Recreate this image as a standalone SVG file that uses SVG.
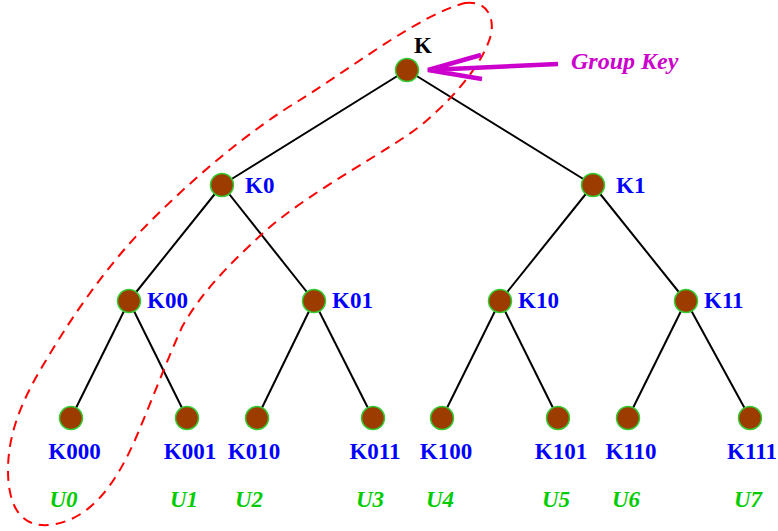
<svg xmlns="http://www.w3.org/2000/svg" width="778" height="531" viewBox="0 0 778 531">
  <style>
    .edge { stroke: #000; stroke-width: 2; fill: none; }
    .node { fill: #9c3c00; stroke: #33cc33; stroke-width: 1.5; }
    .klab { font-family: "Liberation Serif", serif; font-weight: bold; font-size: 23px; fill: #0000ff; }
    .root { fill: #000; }
    .ulab { font-family: "Liberation Serif", serif; font-weight: bold; font-style: italic; font-size: 23px; fill: #00cc00; text-anchor: middle; }
    .leaf { text-anchor: middle; }
    .loop { fill: none; stroke: #ff0000; stroke-width: 2; stroke-dasharray: 10 7; }
    .ptr { stroke: #cc00cc; stroke-width: 4.5; fill: none; stroke-linecap: butt; }
    .plab { font-family: "Liberation Serif", serif; font-weight: bold; font-style: italic; font-size: 24px; fill: #cc00cc; }
  </style>

  <!-- tree edges -->
  <g id="connectors">
    <line class="edge" x1="407" y1="70" x2="222" y2="185"/>
    <line class="edge" x1="407" y1="70" x2="593" y2="185"/>
    <line class="edge" x1="222" y1="185" x2="129" y2="301"/>
    <line class="edge" x1="222" y1="185" x2="314" y2="301"/>
    <line class="edge" x1="593" y1="185" x2="500" y2="301"/>
    <line class="edge" x1="593" y1="185" x2="686" y2="301"/>
    <line class="edge" x1="129" y1="301" x2="71" y2="418"/>
    <line class="edge" x1="129" y1="301" x2="187" y2="418"/>
    <line class="edge" x1="314" y1="301" x2="257" y2="418"/>
    <line class="edge" x1="314" y1="301" x2="373" y2="418"/>
    <line class="edge" x1="500" y1="301" x2="442" y2="418"/>
    <line class="edge" x1="500" y1="301" x2="558" y2="418"/>
    <line class="edge" x1="686" y1="301" x2="628" y2="418"/>
    <line class="edge" x1="686" y1="301" x2="750" y2="418"/>
  </g>

  <!-- key path from root to leaf U0 -->
  <path id="keypath" class="loop" d="M 465,3 C 487,0 496,18 490,38 C 483,60 462,90 425,122 C 395,148 310,190 262,234 C 225,268 200,295 182,327 C 165,365 150,405 135,440 C 115,485 90,520 50,525 C 20,528 8,505 8,470 C 8,430 25,395 45,362 C 70,320 100,275 140,232 C 190,180 250,130 300,100 C 360,62 420,15 465,3 Z"/>

  <g id="n-K"><circle class="node" cx="407" cy="70" r="11.5"/><text class="klab root" x="414" y="53">K</text></g>
  <g id="n-K0"><circle class="node" cx="222" cy="185" r="11.5"/><text class="klab" x="245" y="193">K0</text></g>
  <g id="n-K1"><circle class="node" cx="593" cy="185" r="11.5"/><text class="klab" x="616" y="193">K1</text></g>
  <g id="n-K00"><circle class="node" cx="129" cy="301" r="11.5"/><text class="klab" x="147" y="308">K00</text></g>
  <g id="n-K01"><circle class="node" cx="314" cy="301" r="11.5"/><text class="klab" x="332" y="308">K01</text></g>
  <g id="n-K10"><circle class="node" cx="500" cy="301" r="11.5"/><text class="klab" x="518" y="308">K10</text></g>
  <g id="n-K11"><circle class="node" cx="686" cy="301" r="11.5"/><text class="klab" x="704" y="308">K11</text></g>

  <g id="n-K000"><circle class="node" cx="71" cy="418" r="11.5"/><text class="klab leaf" x="74.5" y="459">K000</text><text class="ulab" x="63.5" y="507">U0</text></g>
  <g id="n-K001"><circle class="node" cx="187" cy="418" r="11.5"/><text class="klab leaf" x="190" y="459">K001</text><text class="ulab" x="184" y="507">U1</text></g>
  <g id="n-K010"><circle class="node" cx="257" cy="418" r="11.5"/><text class="klab leaf" x="254" y="459">K010</text><text class="ulab" x="249" y="507">U2</text></g>
  <g id="n-K011"><circle class="node" cx="373" cy="418" r="11.5"/><text class="klab leaf" x="375" y="459">K011</text><text class="ulab" x="370" y="507">U3</text></g>
  <g id="n-K100"><circle class="node" cx="442" cy="418" r="11.5"/><text class="klab leaf" x="446" y="459">K100</text><text class="ulab" x="440" y="507">U4</text></g>
  <g id="n-K101"><circle class="node" cx="558" cy="418" r="11.5"/><text class="klab leaf" x="561" y="459">K101</text><text class="ulab" x="556" y="507">U5</text></g>
  <g id="n-K110"><circle class="node" cx="628" cy="418" r="11.5"/><text class="klab leaf" x="631" y="459">K110</text><text class="ulab" x="626" y="507">U6</text></g>
  <g id="n-K111"><circle class="node" cx="750" cy="418" r="11.5"/><text class="klab leaf" x="752" y="459">K111</text><text class="ulab" x="748" y="507">U7</text></g>

  <!-- group key pointer -->
  <g id="group-key">
    <path class="ptr" d="M 558,64 L 428,70 M 481,55 L 428,70 L 482,79"/>
    <text class="plab" x="571" y="69">Group Key</text>
  </g>
</svg>
